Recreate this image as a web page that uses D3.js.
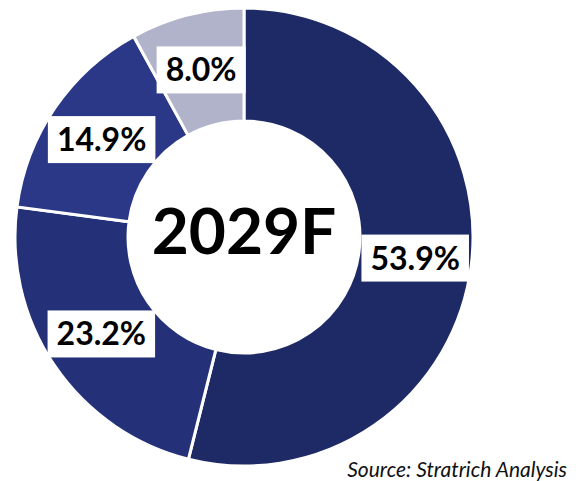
<!DOCTYPE html>
<html>
<head>
<meta charset="utf-8">
<script src="https://cdn.jsdelivr.net/npm/d3@7"></script>
<style>
  html, body { margin: 0; padding: 0; background: #ffffff; }
  svg { display: block; }
</style>
</head>
<body>
<svg id="chart" width="576" height="481"></svg>
<script>
const categories = ["Segment A", "Segment B", "Segment C", "Segment D"];
const values = [53.9, 23.2, 14.9, 8.0];
const colors = ["#1e2a65", "#243178", "#2b3887", "#b0b3ca"];
const centerLabel = "2029F";
const sourceText = "Source: Stratrich Analysis";

const svg = d3.select("#chart");
const cx = 244, cy = 237;
const outerR = 229, innerR = 116;

const pie = d3.pie().sort(null).value(d => d.value);
const arc = d3.arc().innerRadius(innerR).outerRadius(outerR);
const labelArc = d3.arc().innerRadius((innerR + outerR) / 2).outerRadius((innerR + outerR) / 2);

const data = categories.map((c, i) => ({ name: c, value: values[i], color: colors[i] }));
const arcs = pie(data);

const g = svg.append("g").attr("transform", `translate(${cx},${cy})`);

g.selectAll("path.slice")
  .data(arcs)
  .join("path")
  .attr("class", "slice")
  .attr("d", arc)
  .attr("fill", d => d.data.color)
  .attr("stroke", "#ffffff")
  .attr("stroke-width", 3)
  .attr("stroke-linejoin", "miter");

const fmt = d3.format(".1f");
const labels = g.selectAll("g.lbl")
  .data(arcs)
  .join("g")
  .attr("class", "lbl")
  .attr("transform", d => `translate(${labelArc.centroid(d)})`);

labels.append("text")
  .attr("text-anchor", "middle")
  .attr("dy", "0.36em")
  .attr("font-family", "Lato, 'Open Sans', sans-serif")
  .attr("font-weight", 700)
  .attr("font-size", 32)
  .attr("fill", "#000000")
  .text(d => fmt(d.data.value) + "%");

labels.each(function() {
  const t = d3.select(this).select("text");
  const bb = t.node().getBBox();
  const padX = 9, h = 47;
  d3.select(this).insert("rect", "text")
    .attr("x", bb.x - padX)
    .attr("y", -h / 2)
    .attr("width", bb.width + 2 * padX)
    .attr("height", h)
    .attr("fill", "#ffffff");
});

g.append("text")
  .attr("text-anchor", "middle")
  .attr("x", 0)
  .attr("y", 17)
  .attr("font-family", "Lato, 'Open Sans', sans-serif")
  .attr("font-weight", 700)
  .attr("font-size", 64)
  .attr("fill", "#000000")
  .text(centerLabel);

svg.append("text")
  .attr("x", 567)
  .attr("y", 477)
  .attr("text-anchor", "end")
  .attr("font-family", "Lato, 'Open Sans', sans-serif")
  .attr("font-style", "italic")
  .attr("font-size", 21)
  .attr("fill", "#111111")
  .text(sourceText);
</script>
</body>
</html>
